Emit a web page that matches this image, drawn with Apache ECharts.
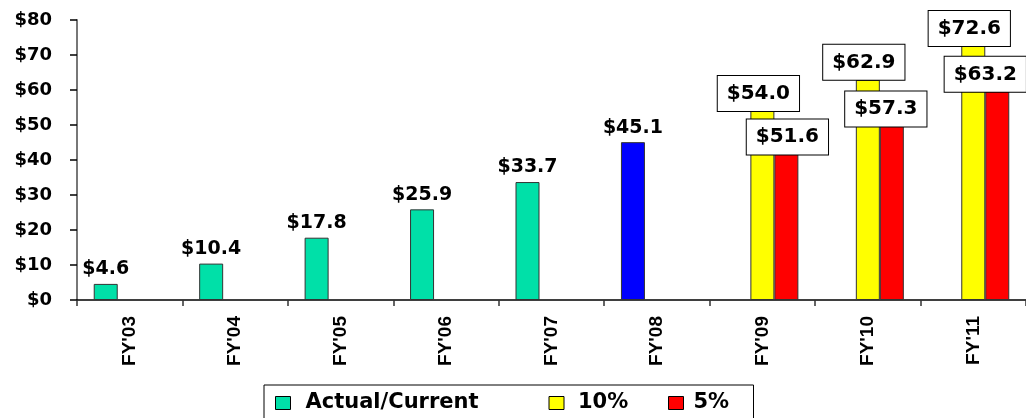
<!DOCTYPE html>
<html>
<head>
<meta charset="utf-8">
<script src="https://cdn.jsdelivr.net/npm/echarts@6/dist/echarts.min.js"></script>
<style>
  html, body { margin: 0; padding: 0; background: #fff; }
  #chart { width: 1026px; height: 418px; }
</style>
</head>
<body>
<div id="chart"></div>
<script>
// data
const categories = ["FY'03", "FY'04", "FY'05", "FY'06", "FY'07", "FY'08", "FY'09", "FY'10", "FY'11"];
const actual = [4.6, 10.4, 17.8, 25.9, 33.7, 45.1, '-', '-', '-'];
const tenPct = ['-', '-', '-', '-', '-', '-', 54.0, 62.9, 72.6];
const fivePct = ['-', '-', '-', '-', '-', '-', 51.6, 57.3, 63.2];
const yTicks = [0, 10, 20, 30, 40, 50, 60, 70, 80];
const currentYear = "FY'08";

// label nudges so the boxes sit where the original put them
const tenNudge = [-4, 0];
const fiveNudge = {6: [1, 0], 7: [-6, -8], 8: [-12, -22]};

const wide = '"DejaVu Sans", Verdana, sans-serif';
const arial = '"Liberation Sans", Arial, sans-serif';

let chart = echarts.init(document.getElementById('chart'));

const money = p => '$' + Number(p.value).toFixed(1);

const boxLabel = {
  show: true,
  formatter: money,
  color: '#000',
  fontFamily: wide,
  fontWeight: 'bold',
  fontSize: 20,
  lineHeight: 23,
  backgroundColor: '#fff',
  borderColor: '#000',
  borderWidth: 1,
  padding: [6, 9, 6, 9]
};

let option = {
  animation: false,
  backgroundColor: '#fff',
  grid: {
    left: 77,
    top: 20,
    width: 957,
    height: 280,
    containLabel: false
  },
  legend: {
    left: 264,
    top: 385,
    orient: 'horizontal',
    itemWidth: 15,
    itemHeight: 13,
    itemGap: 20,
    padding: [7, 15, 10, 11],
    borderColor: '#000',
    borderWidth: 1,
    icon: 'rect',
    itemStyle: { borderColor: '#000', borderWidth: 1 },
    textStyle: {
      color: '#000',
      fontFamily: wide,
      fontWeight: 'bold',
      fontSize: 21,
      lineHeight: 22
    },
    data: [
      { name: 'Actual/Current', textStyle: { width: 223, padding: [0, 0, 0, 10] } },
      { name: '10%', textStyle: { width: 70, padding: [0, 0, 0, 9] } },
      { name: '5%', textStyle: { width: 45, padding: [0, 0, 0, 5] } }
    ]
  },
  xAxis: {
    type: 'category',
    data: categories,
    boundaryGap: true,
    axisLine: { show: true, lineStyle: { color: '#000', width: 1.5 } },
    axisTick: { show: true, length: 6, lineStyle: { color: '#333', width: 1.5 } },
    axisLabel: {
      rotate: 90,
      margin: 16,
      color: '#000',
      fontFamily: arial,
      fontWeight: 'bold',
      fontSize: 19,
      backgroundColor: 'rgba(255,255,255,0)',
      padding: [0, 0, 10, 0]
    },
    splitLine: { show: false }
  },
  yAxis: {
    type: 'value',
    min: yTicks[0],
    max: yTicks[yTicks.length - 1],
    interval: yTicks[1] - yTicks[0],
    axisLine: { show: true, lineStyle: { color: '#777', width: 2 } },
    axisTick: { show: true, length: 7, lineStyle: { color: '#000', width: 1.5 } },
    axisLabel: {
      margin: 25,
      color: '#000',
      fontFamily: wide,
      fontWeight: 'bold',
      fontSize: 18,
      formatter: v => '$' + v
    },
    splitLine: { show: false }
  },
  series: [
    {
      name: 'Actual/Current',
      type: 'bar',
      barWidth: 24,
      barGap: '0%',
      itemStyle: { color: '#00E0A8', borderColor: '#333', borderWidth: 1 },
      label: {
        show: true,
        position: 'top',
        distance: 5,
        formatter: money,
        color: '#000',
        fontFamily: wide,
        fontWeight: 'bold',
        fontSize: 19
      },
      data: actual.map((v, i) => categories[i] === currentYear
        ? { value: v, itemStyle: { color: '#0000FF' } }
        : v)
    },
    {
      name: '10%',
      type: 'bar',
      barWidth: 24,
      barGap: '0%',
      itemStyle: { color: '#FFFF00', borderColor: '#333', borderWidth: 1 },
      label: Object.assign({}, boxLabel, { position: 'top', distance: 0, offset: tenNudge }),
      z: 3,
      data: tenPct
    },
    {
      name: '5%',
      type: 'bar',
      barWidth: 24,
      barGap: '0%',
      itemStyle: { color: '#FF0000', borderColor: '#333', borderWidth: 1 },
      label: Object.assign({}, boxLabel, { position: 'insideTop', distance: 0 }),
      z: 4,
      data: fivePct.map((v, i) => fiveNudge[i]
        ? { value: v, label: { offset: fiveNudge[i] } }
        : v)
    }
  ]
};

chart.setOption(option);
</script>
</body>
</html>
